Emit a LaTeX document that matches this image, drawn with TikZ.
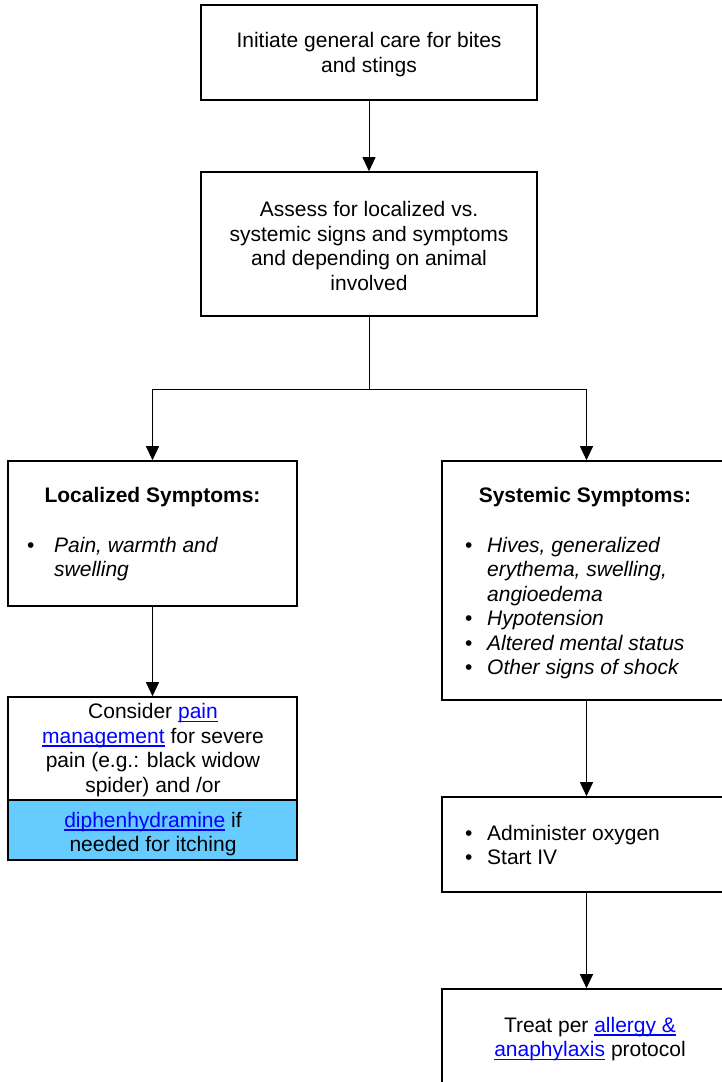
\documentclass[tikz,border=0pt]{standalone}
\usepackage{fontspec}
\setmainfont{Liberation Sans}
\usetikzlibrary{arrows.meta}
\definecolor{linkc}{HTML}{0000FF}
\definecolor{fillc}{HTML}{66CCFF}
\definecolor{linec}{HTML}{000000}
\newsavebox{\lnkbox}
\newcommand{\lnk}[1]{\textcolor{linkc}{\sbox{\lnkbox}{#1}\rlap{\rule[-3.6pt]{\wd\lnkbox}{1.3pt}}\usebox{\lnkbox}}}
\begin{document}
\begin{tikzpicture}[x=1pt,y=-1pt,
  font=\fontsize{21}{24.5}\selectfont,
  box/.style={draw=linec, line width=1.6pt, inner sep=0pt, minimum width=289pt},
  wbox/.style={box, minimum width=336pt},
  txt/.style={align=center, inner sep=0pt},
  lst/.style={anchor=base west, inner sep=0pt},
  arr/.style={draw=linec, line width=1pt, -{Triangle[width=13pt,length=14pt]}},
  conn/.style={draw=linec, line width=1pt}]
\useasboundingbox (0,0) rectangle (722,1082);

% boxes
\node[wbox, minimum height=95pt] (b1) at (369,52.5) {};
\node[wbox, minimum height=144pt] (b2) at (369,244) {};
\node[box, minimum height=145pt] (b3) at (152.5,533.5) {};
\node[box, minimum height=239pt] (b4) at (586.5,580.5) {};
\node[box, minimum height=103pt] (b5a) at (152.5,748.5) {};
\node[box, fill=fillc, minimum height=60pt] (b5b) at (152.5,830) {};
\node[box, minimum height=95pt] (b6) at (586.5,844.5) {};
\node[box, minimum height=110pt] (b7) at (586.5,1044) {};

% texts
\node[txt] (t1) at (369,54.5) {Initiate general care for bites\\and stings};
\node[txt] (t2) at (369,246) {Assess for localized vs.\\systemic signs and symptoms\\and depending on animal\\involved};
\node[anchor=base, inner sep=0pt] (h3) at (152.5,502) {\textbf{Localized Symptoms:}};
\node[lst] (l3) at (27,552) {\begin{tabular}[t]{@{}p{27pt}@{}p{230pt}@{}}
\textbullet & \textit{Pain, warmth and}\newline\textit{swelling}
\end{tabular}};
\node[anchor=base, inner sep=0pt] (h4) at (585,502) {\textbf{Systemic Symptoms:}};
\node[lst] (l4) at (465,552) {\begin{tabular}[t]{@{}p{22pt}@{}p{230pt}@{}}
\textbullet & \textit{Hives, generalized}\newline\textit{erythema, swelling,}\newline\textit{angioedema}\\
\textbullet & \textit{Hypotension}\\
\textbullet & \textit{Altered mental status}\\
\textbullet & \textit{Other signs of shock}
\end{tabular}};
\node[txt] (t5a) at (153,750) {Consider \lnk{pain}\\\lnk{management} for severe\\pain (e.g.: black widow\\spider) and /or};
\node[txt] (t5b) at (153,834) {\lnk{diphenhydramine} if\\needed for itching};
\node[lst] (l6) at (465,840) {\begin{tabular}[t]{@{}p{22pt}@{}p{230pt}@{}}
\textbullet & Administer oxygen\\
\textbullet & Start IV
\end{tabular}};
\node[txt] (t7) at (590,1039) {Treat per \lnk{allergy \&}\\\lnk{anaphylaxis} protocol};

% connectors
\coordinate (j) at (369,389);
\draw[arr] (b1.south) -- (b2.north);
\draw[conn] (b2.south) -- (j);
\draw[arr] (j) -| (b3.north);
\draw[arr] (j) -| (b4.north);
\draw[arr] (b3.south) -- (b5a.north);
\draw[arr] (b4.south) -- (b6.north);
\draw[arr] (b6.south) -- (b7.north);
\end{tikzpicture}
\end{document}
